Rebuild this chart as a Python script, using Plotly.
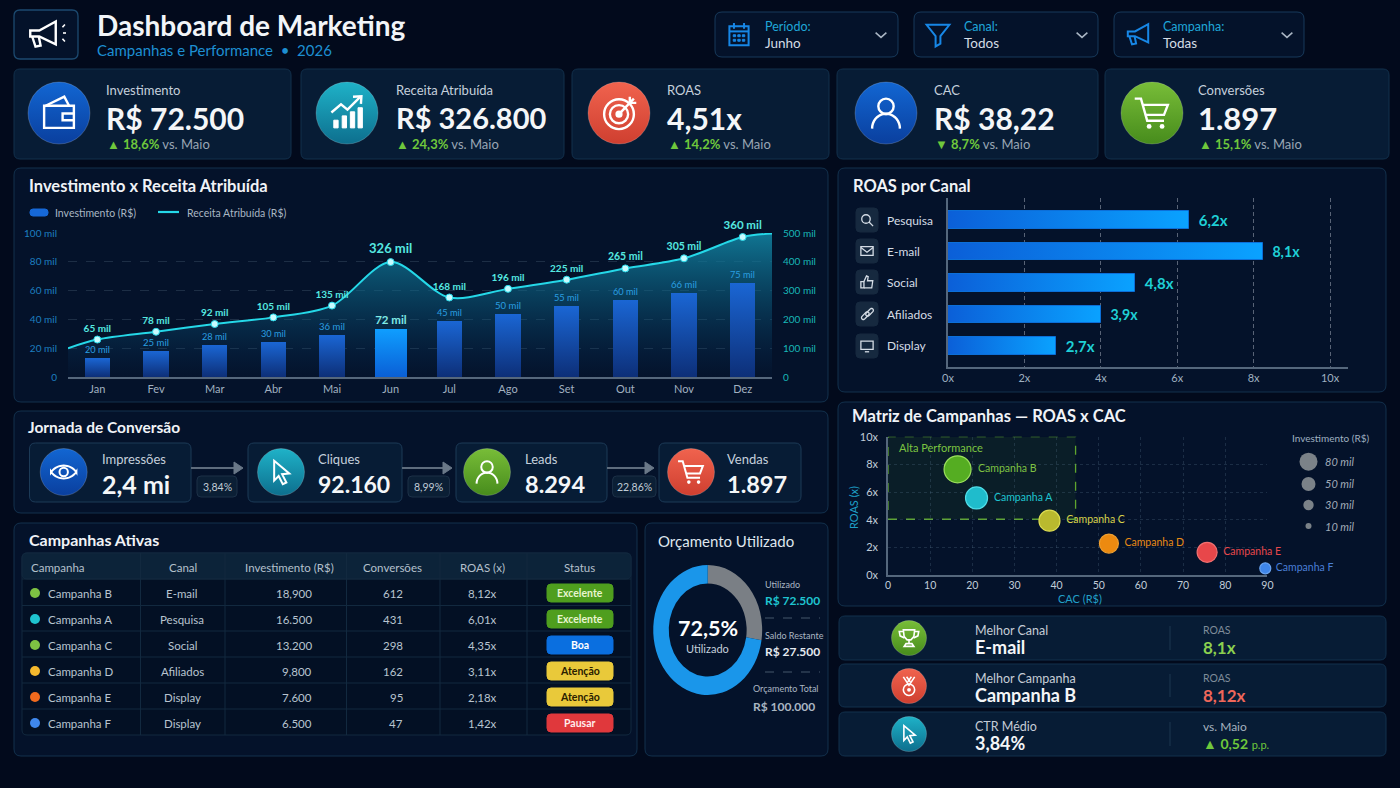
import math
import plotly.graph_objects as go

W, H = 1400, 788
FONT = "Lato"

# ---------- data ----------
meses = ["Jan", "Fev", "Mar", "Abr", "Mai", "Jun", "Jul", "Ago", "Set", "Out", "Nov", "Dez"]
invest_altura = [13.3, 18, 22, 24.4, 29.5, 33.3, 39, 44, 49.3, 53.7, 58, 65.6]
invest_rotulos = ["20 mil", "25 mil", "28 mil", "30 mil", "36 mil", "<b>72 mil</b>", "45 mil", "50 mil", "55 mil", "60 mil", "66 mil", "75 mil"]
receita_altura = [130, 157, 184, 207, 248, 399, 276, 306, 338, 377, 412, 486]
receita_inicio, receita_fim = 100, 498
receita_rotulos = ["65 mil", "78 mil", "92 mil", "105 mil", "135 mil", "326 mil", "168 mil", "196 mil", "225 mil", "265 mil", "305 mil", "360 mil"]
esq_ticks = [0, 20, 40, 60, 80, 100]
esq_labels = ["0", "20 mil", "40 mil", "60 mil", "80 mil", "100 mil"]
dir_ticks = [0, 100, 200, 300, 400, 500]
dir_labels = ["0", "100 mil", "200 mil", "300 mil", "400 mil", "500 mil"]

canais = ["Pesquisa", "E-mail", "Social", "Afiliados", "Display"]
canal_barra = [6.3, 8.25, 4.9, 4.0, 2.83]
canal_rotulos = ["6,2x", "8,1x", "4,8x", "3,9x", "2,7x"]

camp_nomes = ["Campanha B", "Campanha A", "Campanha C", "Campanha D", "Campanha E", "Campanha F"]
camp_cac = [16.5, 21, 38.3, 52.4, 75.7, 89.5]
camp_roas = [7.64, 5.57, 3.93, 2.27, 1.64, 0.48]
camp_bolha = [27, 22, 21, 19, 20, 11]
bolha_legenda = ["80 mil", "50 mil", "30 mil", "10 mil"]

orc_labels = ["Saldo Restante", "Utilizado"]
orc_values = [27.5, 72.5]

tab_header = ["Campanha", "Canal", "Investimento (R$)", "Conversões", "ROAS (x)", "Status"]
tab_camp = ["Campanha B", "Campanha A", "Campanha C", "Campanha D", "Campanha E", "Campanha F"]
tab_canal = ["E-mail", "Pesquisa", "Social", "Afiliados", "Display", "Display"]
tab_inv = ["18,900", "16.500", "13.200", "9,800", "7.600", "6.500"]
tab_conv = ["612", "431", "298", "162", "95", "47"]
tab_roas = ["8,12x", "6,01x", "4,35x", "3,11x", "2,18x", "1,42x"]
tab_status = ["Excelente", "Excelente", "Boa", "Atenção", "Atenção", "Pausar"]

# ---------- palette ----------
BG = "#020a1c"
PANEL = "#04122a"
CARD = "#071c35"
BORDER = "#12304c"
GREEN = "#6fc83c"
TEAL = "#1fd0d6"
DISC_BLUE, DISC_TEAL, DISC_RED, DISC_GREEN = "#0c51b8", "#1393ad", "#e2503f", "#5ea62c"

shapes, notes = [], []


def fx(x):
    return x / W


def fy(y):
    return 1 - y / H


def T(x, y, text, size=12, color="#d5dde6", bold=False, anchor="left", italic=False, angle=0):
    if italic:
        text = f"<i>{text}</i>"
    if anchor == "left":
        x -= 1.5
    notes.append(dict(xref="paper", yref="paper", x=fx(x), y=fy(y), text=text, showarrow=False,
                      xanchor=anchor, yanchor="middle", borderpad=0, textangle=angle,
                      font=dict(size=size, color=color, family=FONT, weight=700 if bold else 400)))


def rrect(x0, y0, x1, y1, r=6, fill=PANEL, line=BORDER, lw=1):
    X0, X1, Y0, Y1 = fx(x0), fx(x1), fy(y0), fy(y1)
    rx, ry = r / W, r / H
    p = (f"M{X0 + rx},{Y0} L{X1 - rx},{Y0} Q{X1},{Y0} {X1},{Y0 - ry} L{X1},{Y1 + ry} Q{X1},{Y1} {X1 - rx},{Y1} "
         f"L{X0 + rx},{Y1} Q{X0},{Y1} {X0},{Y1 + ry} L{X0},{Y0 - ry} Q{X0},{Y0} {X0 + rx},{Y0} Z")
    shapes.append(dict(type="path", xref="paper", yref="paper", path=p, fillcolor=fill,
                       line=dict(color=line, width=lw), layer="below"))


def poly(pts, color="#ffffff", w=2, close=False, fill=None, dash=None):
    p = "M" + " L".join(f"{fx(a)},{fy(b)}" for a, b in pts) + (" Z" if close else "")
    ln = dict(color=color, width=w)
    if dash:
        ln["dash"] = dash
    shapes.append(dict(type="path", xref="paper", yref="paper", path=p, line=ln,
                       fillcolor=fill if fill else "rgba(0,0,0,0)", layer="below"))


def circ(cx, cy, rx, ry=None, fill="rgba(0,0,0,0)", line="rgba(0,0,0,0)", lw=0):
    ry = rx if ry is None else ry
    shapes.append(dict(type="circle", xref="paper", yref="paper", x0=fx(cx - rx), x1=fx(cx + rx),
                       y0=fy(cy + ry), y1=fy(cy - ry), fillcolor=fill, line=dict(color=line, width=lw), layer="below"))


def arc(cx, cy, rx, ry, a0, a1, n=18):
    return [(cx + rx * math.cos(math.radians(a0 + (a1 - a0) * i / n)),
             cy + ry * math.sin(math.radians(a0 + (a1 - a0) * i / n))) for i in range(n + 1)]


def L(cx, cy, s, pts):
    return [(cx + a * s, cy + b * s) for a, b in pts]


def icon(kind, cx, cy, s, c="#ffffff", w=2):
    f = lambda pts: L(cx, cy, s, pts)
    if kind == "wallet":
        poly(f([(-.62, -.3), (.62, -.3), (.62, .62), (-.62, .62)]), c, w, True)
        poly(f([(-.6, -.28), (.22, -.68), (.42, -.3)]), c, w)
        poly(f([(.62, .02), (.15, .02), (.15, .3), (.62, .3)]), c, w)
    elif kind == "chart":
        for bx, top in [(-.55, .3), (-.2, .12), (.14, -.05), (.46, -.22)]:
            poly(f([(bx, .62), (bx, top), (bx + .18, top), (bx + .18, .62)]), c, 1, True, c)
        poly(f([(-.65, -.02), (-.25, -.36), (.02, -.14), (.56, -.68)]), c, w)
        poly(f([(.25, -.68), (.6, -.7), (.58, -.38)]), c, w)
    elif kind == "target":
        circ(cx, cy + .05 * s, .62 * s, line=c, lw=w)
        circ(cx, cy + .05 * s, .38 * s, line=c, lw=w)
        circ(cx, cy + .05 * s, .15 * s, fill=c)
        poly(f([(0, .05), (.62, -.6)]), c, w)
        poly(f([(.45, -.68), (.45, -.42), (.72, -.42)]), c, w)
    elif kind == "person":
        circ(cx, cy - .28 * s, .32 * s, line=c, lw=w)
        poly(L(cx, cy, s, arc(0, .65, .58, .62, 180, 360)), c, w)
    elif kind == "cart":
        poly(f([(-.72, -.6), (-.46, -.6), (-.2, .32), (.5, .32)]), c, w)
        poly(f([(-.38, -.34), (.66, -.34), (.5, .08), (-.26, .08)]), c, w)
        circ(cx - .12 * s, cy + .56 * s, .1 * s, fill=c)
        circ(cx + .42 * s, cy + .56 * s, .1 * s, fill=c)
    elif kind == "eye":
        poly(L(cx, cy, s, arc(0, .42, .95, .85, 207, 333) + arc(0, -.42, .95, .85, 27, 153)), c, w, True)
        circ(cx, cy, .28 * s, line=c, lw=w)
    elif kind == "cursor":
        poly(f([(-.38, -.62), (.46, .08), (.06, .12), (.3, .58), (.1, .68), (-.13, .22), (-.38, .48)]), c, w, True)
    elif kind == "trophy":
        poly(f([(-.42, -.6), (.42, -.6), (.36, -.1), (.14, .14), (-.14, .14), (-.36, -.1)]), c, w, True)
        poly(f([(-.42, -.48), (-.72, -.48), (-.66, -.16), (-.34, 0)]), c, w)
        poly(f([(.42, -.48), (.72, -.48), (.66, -.16), (.34, 0)]), c, w)
        poly(f([(0, .14), (0, .42)]), c, w)
        poly(f([(-.36, .62), (-.22, .42), (.22, .42), (.36, .62)]), c, w, True)
    elif kind == "medal":
        poly(f([(-.42, -.68), (0, -.05), (.42, -.68)]), c, w)
        poly(f([(-.18, -.68), (.1, -.3)]), c, w)
        poly(f([(.18, -.68), (-.1, -.3)]), c, w)
        circ(cx, cy + .28 * s, .42 * s, line=c, lw=w)
        circ(cx, cy + .28 * s, .14 * s, fill=c)
    elif kind == "search":
        circ(cx - .12 * s, cy - .12 * s, .5 * s, line=c, lw=w)
        poly(f([(.24, .24), (.72, .72)]), c, w)
    elif kind == "mail":
        poly(f([(-.72, -.52), (.72, -.52), (.72, .52), (-.72, .52)]), c, w, True)
        poly(f([(-.72, -.4), (0, .14), (.72, -.4)]), c, w)
    elif kind == "thumb":
        poly(f([(-.72, -.05), (-.36, -.05), (-.36, .68), (-.72, .68)]), c, w, True)
        poly(f([(-.36, -.05), (-.06, -.72), (.14, -.62), (.06, -.15), (.68, -.15), (.56, .68), (-.36, .68)]), c, w)
    elif kind == "link":
        poly(L(cx, cy, s, [(a * .7 + b * .7, -a * .7 + b * .7) for a, b in
                           [(-.62, -.22), (.05, -.22)] + arc(.05, 0, .22, .22, -90, 90, 6) + [(-.62, .22)] + arc(-.62, 0, .22, .22, 90, 270, 6)]), c, w)
        poly(L(cx, cy, s, [(a * .7 + b * .7 + .1, -a * .7 + b * .7) for a, b in
                           [(.62, -.22), (-.05, -.22)] + arc(-.05, 0, .22, .22, 270, 90, 6) + [(.62, .22)] + arc(.62, 0, .22, .22, 90, -90, 6)]), c, w)
    elif kind == "monitor":
        poly(f([(-.72, -.58), (.72, -.58), (.72, .4), (-.72, .4)]), c, w, True)
        poly(f([(-.25, .68), (.25, .68)]), c, w)
    elif kind == "calendar":
        poly(f([(-.8, -.72), (.8, -.72), (.8, .85), (-.8, .85)]), c, w, True)
        poly(f([(-.8, -.3), (.8, -.3)]), c, w)
        poly(f([(-.42, -1), (-.42, -.52)]), c, w)
        poly(f([(.42, -1), (.42, -.52)]), c, w)
        for dy in (.06, .44):
            for dx in (-.38, 0, .38):
                poly(f([(dx - .1, dy - .08), (dx + .1, dy - .08), (dx + .1, dy + .08), (dx - .1, dy + .08)]), c, 1, True, c)
    elif kind == "funnel":
        poly(f([(-.95, -.85), (.95, -.85), (.2, .1), (.2, .72), (-.2, .95), (-.2, .1)]), c, w, True)
    elif kind == "mega":
        poly(f([(-.85, -.3), (-.25, -.3), (.85, -.9), (.85, .62), (-.25, .1), (-.85, .1)]), c, w, True)
        poly(f([(-.72, .1), (-.5, .78), (-.16, .7), (-.28, .12)]), c, w)
    elif kind == "chev":
        poly(f([(-.9, -.4), (0, .4), (.9, -.4)]), c, w)


# ---------- header ----------
rrect(14, 10, 78, 59, 6, "#04122a", "#1c4a70", 1.3)
icon("mega", 43, 35, 15, "#ffffff", 2.4)
for a in (-35, 0, 35):
    ang = math.radians(a)
    poly([(60 + 3 * math.cos(ang), 33 + 5 * math.sin(ang) * 2), (60 + 6 * math.cos(ang), 33 + 7.5 * math.sin(ang) * 2)], "#ffffff", 1.6)
T(97, 25, "Dashboard de Marketing", 28, "#f2f5f8", True)
T(97, 50, "Campanhas e Performance  •  2026", 15, "#1d8fd2")

for x0, x1, ic, lab, val, xt, xc in [(715, 898, "calendar", "Período:", "Junho", 765, 881),
                                     (914, 1098, "funnel", "Canal:", "Todos", 964, 1082),
                                     (1114, 1304, "mega", "Campanha:", "Todas", 1163, 1287)]:
    rrect(x0, 12, x1, 57, 7, "#04122a", "#17395a")
    icon(ic, x0 + 24, 35, 12, "#1787e6", 2)
    T(xt, 27, lab, 12.5, "#1fa6d8")
    T(xt, 43, val, 13.5, "#d5dde6")
    icon("chev", xc, 35, 6, "#aab6c4", 1.5)

# ---------- KPI cards ----------
kpis = [(14, 291, 59, DISC_BLUE, "wallet", "Investimento", "R$ 72.500", "▲", "18,6%", 106, 30),
        (301, 564, 347, DISC_TEAL, "chart", "Receita Atribuída", "R$ 326.800", "▲", "24,3%", 396, 29),
        (572, 829, 619, DISC_RED, "target", "ROAS", "4,51x", "▲", "14,2%", 667, 30),
        (837, 1098, 886, "#0d55bd", "person", "CAC", "R$ 38,22", "▼", "8,7%", 934, 30),
        (1105, 1389, 1152, DISC_GREEN, "cart", "Conversões", "1.897", "▲", "15,1%", 1198, 31)]
for x0, x1, cx, col, ic, lab, val, arrow, d, tx, vs in kpis:
    rrect(x0, 69, x1, 159, 6, CARD, BORDER)
    circ(cx, 113, 31, fill=col, line="rgba(255,255,255,0.18)", lw=1)
    icon(ic, cx, 113, 24, "#ffffff", 2.4)
    T(tx, 90, lab, 13, "#c5d0dc")
    T(tx, 118, val, vs, "#f4f6f8", True)
    T(tx + 1, 144, f'<span style="color:{GREEN}"><b>{arrow} {d}</b></span> vs. Maio', 13, "#99a6b4")

# ---------- panels ----------
rrect(14, 168, 828, 402, 7)
rrect(838, 168, 1386, 392, 7)
rrect(838, 402, 1386, 606, 7)
rrect(14, 411, 828, 513, 7)
rrect(14, 523, 637, 756, 7)
rrect(645, 523, 828, 756, 7)

T(29, 186, "Investimento x Receita Atribuída", 16.5, "#f0f3f7", True)
T(853, 186, "ROAS por Canal", 16.5, "#f0f3f7", True)
T(852, 416, "Matriz de Campanhas — ROAS x CAC", 16.5, "#f0f3f7", True)
T(28, 427, "Jornada de Conversão", 15.5, "#f0f3f7", True)
T(29, 539, "Campanhas Ativas", 16, "#f0f3f7", True)
T(658, 541, "Orçamento Utilizado", 15, "#dfe6ee")

# legend of the combo chart
rrect(30, 209, 48, 216, 3, "#1668d8", "#1668d8")
T(55, 213, "Investimento (R$)", 10.5, "#a9b6c3")
poly([(158, 212), (179, 212)], "#25d8e8", 2.2)
T(187, 213, "Receita Atribuída (R$)", 10.5, "#a9b6c3")

# ---------- ROAS channel tiles ----------
tile_icons = ["search", "mail", "thumb", "link", "monitor"]
tile_y = [220, 251, 282, 314, 346]
for ic, yy in zip(tile_icons, tile_y):
    rrect(856, yy - 12, 878, yy + 12, 4, "#16293f", "#16293f")
    icon(ic, 867, yy, 8.5, "#d5dde6", 1.3)

# ---------- funnel ----------
jornada = [(29.5, 191, 63.7, DISC_BLUE, "eye", "Impressões", "2,4 mi", 102, 25, 15),
           (248, 402, 281, DISC_TEAL, "cursor", "Cliques", "92.160", 318, 23, 18),
           (456, 607, 487, DISC_GREEN, "person", "Leads", "8.294", 525, 23.5, 18),
           (659, 801, 691, DISC_RED, "cart", "Vendas", "1.897", 727, 23.5, 18)]
for x0, x1, cx, col, ic, lab, val, tx, vs, isz in jornada:
    rrect(x0, 443, x1, 502, 6, CARD, "#1c3a57")
    circ(cx, 472, 23.5, fill=col, line="rgba(255,255,255,0.18)", lw=1)
    icon(ic, cx, 472, isz, "#ffffff", 2)
    T(tx, 459, lab, 13, "#c5d0dc")
    T(tx, 484, val, vs, "#f4f6f8", True)
for x0, x1, px0, px1, txt in [(191, 243, 197, 237, "3,84%"), (402, 452, 408, 449.5, "8,99%"), (607, 654, 612.6, 656, "22,86%")]:
    poly([(x0, 468), (x1 - 8, 468)], "#5e6c7d", 2)
    poly([(x1 - 9, 462), (x1, 468), (x1 - 9, 474)], "#6a7888", 1, True, "#6a7888")
    rrect(px0, 476, px1, 497, 4, "#0b1f35", "#1c3047")
    T((px0 + px1) / 2, 487, txt, 10.5, "#c0ccd6", anchor="center")

# ---------- table ----------
rrect(22, 553, 631, 735, 5, "#031024", "#12293f")
rrect(22, 553, 631, 579, 5, "#0c2339", "#12293f")
for yy in [579, 605.5, 631, 657, 683, 709]:
    poly([(22, yy), (631, yy)], "#12293f", 1)
for xx in [140.5, 225, 346.5, 440, 527]:
    poly([(xx, 553), (xx, 735)], "#12293f", 1)
hx = [31, 183, 289, 392, 483, 579]
for i, (h, xx) in enumerate(zip(tab_header, hx)):
    T(xx, 567, h, 11.5, "#b4c0cc", anchor="left" if i == 0 else "center")
dot_cols = ["#7ec243", "#1fc4d0", "#7ec243", "#f5b92e", "#f06a1e", "#3f88ee"]
pill = {"Excelente": ("#4f9e1e", "#e8f5d0"), "Boa": ("#0a6fe0", "#ffffff"),
        "Atenção": ("#e9c93a", "#2a2000"), "Pausar": ("#e0383c", "#ffecec")}
for i in range(6):
    yy = 593 + i * 26
    circ(35, yy, 5, fill=dot_cols[i])
    T(48, yy, tab_camp[i], 11.5, "#b8c4d0")
    T(182, yy, tab_canal[i], 11.5, "#b8c4d0", anchor="center")
    T(313, yy, tab_inv[i], 11.5, "#b8c4d0", anchor="right")
    T(404, yy, tab_conv[i], 11.5, "#b8c4d0", anchor="right")
    T(483, yy, tab_roas[i], 11.5, "#b8c4d0", anchor="center")
    bgc, fgc = pill[tab_status[i]]
    rrect(547, yy - 9, 613, yy + 9, 4, bgc, bgc)
    T(580, yy, tab_status[i], 10.5, fgc, True, "center")

# ---------- donut side texts ----------
T(708, 628, "72,5%", 21.5, "#ffffff", True, "center")
T(708, 648, "Utilizado", 11, "#c5d0dc", anchor="center")
T(765, 584, "Utilizado", 9, "#aab6c2")
T(765, 600, "R$ 72.500", 12, "#1fc4d0", True)
poly([(765, 618), (820, 618)], "#44566a", 1, dash="dash")
T(765, 635, "Saldo Restante", 9, "#aab6c2")
T(765, 651, "R$ 27.500", 12, "#e4e9f0", True)
poly([(765, 672), (820, 672)], "#44566a", 1, dash="dash")
T(820, 688, "Orçamento Total", 9, "#aab6c2", anchor="right")
T(816, 706, "R$ 100.000", 12, "#aab6c2", True, "right")

# ---------- bottom-right cards ----------
info = [(616, 660, 638, DISC_GREEN, "trophy", "Melhor Canal", "E-mail", "ROAS", "8,1x", "#8bd04f"),
        (664, 707, 686, DISC_RED, "medal", "Melhor Campanha", "Campanha B", "ROAS", "8,12x", "#f0675a"),
        (712, 756, 734, DISC_TEAL, "cursor", "CTR Médio", "3,84%", "vs. Maio", None, None)]
for y0, y1, cy, col, ic, lab, val, side, sval, scol in info:
    rrect(839, y0, 1386, y1, 6, CARD, BORDER)
    circ(909, cy, 17.5, fill=col, line="rgba(255,255,255,0.18)", lw=1)
    icon(ic, 909, cy, 13.5, "#ffffff", 1.6)
    T(975, cy - 8, lab, 12.5, "#c5ccd6")
    T(975, cy + 9, val, 18, "#f4f6f8", True)
    poly([(1170, y0 + 10), (1170, y1 - 10)], "#1d3650", 1)
    if sval:
        T(1203, cy - 8, side, 10.5, "#7f8c9a")
        T(1203, cy + 9, sval, 17, scol, True)
    else:
        T(1203, cy - 8, side, 12, "#a6b2bf")
        T(1203, cy + 9, f'▲ <b>0,52</b> <span style="font-size:11px">p.p.</span>', 14, GREEN)

# ---------- size legend ----------
T(1331, 438, "Investimento (R$)", 10, "#9fb0c0", anchor="center")
for (yy, r), lab in zip([(461.7, 9), (484, 7), (505, 5.2), (526, 3)], bolha_legenda):
    circ(1308.5, yy, r, fill="#7b8288")
    T(1325, yy, lab, 11, "#a0aab8", italic=True)

T(899, 447, "Alta Performance", 11, "#7cc441")
T(1080, 598, "CAC (R$)", 11, "#22a0c8", anchor="center")
T(853, 508, "ROAS (x)", 11, "#1fa0c8", anchor="center", angle=-90)

shapes.append(dict(type="rect", xref="x3", yref="y4", x0=0, x1=44.5, y0=4.03, y1=10,
                   fillcolor="rgba(70,140,30,0.10)", line=dict(color="#5ea52e", width=1.3, dash="dash"), layer="below"))

for i, nm in enumerate(canais):
    notes.append(dict(xref="paper", yref="y3", x=fx(885.5), y=i, text=nm, showarrow=False, xanchor="left",
                      yanchor="middle", font=dict(size=12, color="#d5dde6", family=FONT)))

# ---------- traces ----------
fig = go.Figure()
n = len(meses)
linha_x = [-0.5] + list(range(n)) + [11.5]
linha_y = [receita_inicio] + receita_altura + [receita_fim]

fig.add_trace(go.Scatter(x=linha_x, y=linha_y, mode="lines", line=dict(color="#25d8e8", width=2, shape="spline", smoothing=0.9),
                         fill="tozeroy", fillgradient=dict(type="vertical", colorscale=[[0, "rgba(10,60,110,0.03)"], [0.5, "rgba(12,100,135,0.45)"], [1, "rgba(18,135,165,0.85)"]]),
                         xaxis="x", yaxis="y", showlegend=False, name="Receita Atribuída (R$)"))
fig.add_trace(go.Scatter(x=list(range(n)), y=receita_altura, mode="markers+text", text=receita_rotulos, textposition="top center",
                         marker=dict(size=7, color="#c8fbff", line=dict(color="#25d8e8", width=1)),
                         textfont=dict(family=FONT, weight=700, color="#55e8e0", size=[10, 10, 10, 10, 10, 13, 10, 10, 10, 10.5, 10.5, 11.5]),
                         cliponaxis=False, xaxis="x", yaxis="y", showlegend=False))
cols_bar = ["rgb(22, 98, 200)"] * n
cols_bar[5] = "rgb(15, 155, 255)"
larg = [0.43] * n
larg[5] = 0.54
txt_bar = ["#2a9fe0"] * n
txt_bar[5] = "#7fe9e6"
size_bar = [10.5] * n
size_bar[5] = 11.5
fig.add_trace(go.Bar(x=list(range(n)), y=invest_altura, width=larg, marker=dict(color=cols_bar, line=dict(width=0)),
                     text=invest_rotulos, textposition="outside", textfont=dict(family=FONT, size=size_bar, color=txt_bar),
                     cliponaxis=False, xaxis="x", yaxis="y2", showlegend=False, name="Investimento (R$)"))

fig.add_trace(go.Bar(y=list(range(5)), x=canal_barra, orientation="h", width=0.55,
                     marker=dict(color="rgb(8, 130, 240)", line=dict(color="#0c6fd8", width=1)),
                     text=["\u00a0\u00a0" + t for t in canal_rotulos], textposition="outside",
                     textfont=dict(family=FONT, size=20, color=TEAL, weight=700), cliponaxis=False,
                     xaxis="x2", yaxis="y3", showlegend=False))

cols_camp = ["#55ad22", "#1fbccc", "#b9b92e", "#ec8a10", "#e8474a", "#3f86ea"]
line_camp = ["#9be05e", "#4fdde8", "#dcdc50", "#f0a030", "#f07070", "#6aa4f0"]
txt_camp = ["#7ec243", "#1fc4d0", "#d9d34a", "#e88a15", "#e8484a", "#4a7fd6"]
fig.add_trace(go.Scatter(x=camp_cac, y=camp_roas, mode="markers+text", text=["\u00a0" + t for t in camp_nomes],
                         textposition="middle right", textfont=dict(family=FONT, size=10.5, color=txt_camp),
                         marker=dict(size=camp_bolha, color=cols_camp, opacity=1, line=dict(color=line_camp, width=1.2)),
                         cliponaxis=False, xaxis="x3", yaxis="y4", showlegend=False))

fig.add_trace(go.Pie(labels=orc_labels, values=orc_values, hole=0.715, sort=False, direction="clockwise", rotation=0,
                     textinfo="none", marker=dict(colors=["#7a7f85", "#1a96ea"], line=dict(width=0)),
                     domain=dict(x=[fx(707.7 - 65), fx(707.7 + 65)], y=[fy(630 + 65), fy(630 - 65)]), showlegend=False))

GRID = "rgba(130,160,180,0.2)"
AX = "#55677c"
fig.update_layout(
    width=W, height=H, margin=dict(l=0, r=0, t=0, b=0, pad=0, autoexpand=False), autosize=False,
    paper_bgcolor=BG, plot_bgcolor="rgba(0,0,0,0)", font=dict(family=FONT, color="#d5dde6"),
    barmode="overlay", bargap=0, shapes=shapes, annotations=notes, hovermode=False,
    xaxis=dict(domain=[fx(68), fx(772)], range=[-0.5, 11.5], tickmode="array", tickvals=list(range(n)), ticktext=meses,
               showgrid=False, zeroline=False, showline=True, linecolor=AX, linewidth=2, anchor="y",
               ticks="outside", ticklen=1, tickcolor="rgba(0,0,0,0)", tickfont=dict(size=11, color="#a0b0c0", family=FONT)),
    yaxis=dict(domain=[fy(377), fy(233)], range=[0, 500], side="right", tickmode="array", tickvals=dir_ticks, ticktext=dir_labels,
               showgrid=True, gridcolor=GRID, griddash="dash", zeroline=False, showline=False, anchor="x",
               ticks="outside", ticklen=8, tickcolor="rgba(0,0,0,0)", tickfont=dict(size=10, color="#18b8b8", family=FONT)),
    yaxis2=dict(domain=[fy(377), fy(233)], range=[0, 100], side="left", overlaying="y", tickmode="array", tickvals=esq_ticks,
                ticktext=esq_labels, showgrid=False, zeroline=False, showline=False, anchor="x",
                ticks="outside", ticklen=8, tickcolor="rgba(0,0,0,0)", tickfont=dict(size=10, color="#1d7fc0", family=FONT)),
    xaxis2=dict(domain=[fx(948), fx(1348)], range=[0, 10.47], tickmode="array", tickvals=[0, 2, 4, 6, 8, 10],
                ticktext=["0x", "2x", "4x", "6x", "8x", "10x"], showgrid=True, gridcolor="rgba(190,200,210,0.45)", griddash="4px,3px",
                zeroline=False, showline=True, linecolor=AX, linewidth=2, anchor="y3",
                ticks="", tickfont=dict(size=11, color="#9fb0c0", family=FONT)),
    yaxis3=dict(domain=[fy(367), fy(198)], range=[4.67, -0.70], showticklabels=False, showgrid=False, zeroline=False,
                showline=True, linecolor=AX, linewidth=1.5, anchor="x2"),
    xaxis3=dict(domain=[fx(888), fx(1267.4)], range=[0, 90], tickmode="array", tickvals=list(range(0, 100, 10)),
                showgrid=True, gridcolor="rgba(110,140,170,0.22)", griddash="dot", zeroline=False, showline=True,
                linecolor=AX, linewidth=1.5, anchor="y4", ticks="",
                tickfont=dict(size=10.5, color="#c0ccd8", family=FONT)),
    yaxis4=dict(domain=[fy(575), fy(436.7)], range=[0, 10], tickmode="array", tickvals=[0, 2, 4, 6, 8, 10],
                ticktext=["0x", "2x", "4x", "6x", "8x", "10x"], showgrid=True, gridcolor="rgba(110,140,170,0.22)", griddash="dot",
                zeroline=False, showline=True, linecolor=AX, linewidth=1.5, anchor="x3", ticks="outside", ticklen=6,
                tickcolor="rgba(0,0,0,0)", tickfont=dict(size=11, color="#c0ccd8", family=FONT)),
)

post = """
document.body.style.margin='0';document.body.style.background='%s';document.body.style.overflow='hidden';
var svg=document.querySelector('.main-svg');
var NS='http://www.w3.org/2000/svg';
var defs=document.createElementNS(NS,'defs');svg.insertBefore(defs,svg.firstChild);
function grad(id,x2,y2,stops){var g=document.createElementNS(NS,'linearGradient');g.setAttribute('id',id);
 g.setAttribute('x1',0);g.setAttribute('y1',0);g.setAttribute('x2',x2);g.setAttribute('y2',y2);
 stops.forEach(function(s){var e=document.createElementNS(NS,'stop');e.setAttribute('offset',s[0]);e.setAttribute('stop-color',s[1]);g.appendChild(e);});
 defs.appendChild(g);}
grad('gBar',0,1,[[0,'#1a66d4'],[1,'#0d2f78']]);
grad('gJun',0,1,[[0,'#0f9eff'],[1,'#0a5fd6']]);
grad('gH',1,0,[[0,'#0b5fd8'],[1,'#0aa2ff']]);
grad('dBlue',0,1,[[0,'#1266d2'],[1,'#0a3f9e']]);
grad('dTeal',0,1,[[0,'#1fb2c8'],[1,'#0d6f8e']]);
grad('dRed',0,1,[[0,'#f0634e'],[1,'#cf3f30']]);
grad('dGreen',0,1,[[0,'#78bd38'],[1,'#478c1c']]);
var map={'rgb(22, 98, 200)':'gBar','rgb(15, 155, 255)':'gJun','rgb(8, 130, 240)':'gH',
 'rgb(12, 81, 184)':'dBlue','rgb(13, 85, 189)':'dBlue','rgb(19, 147, 173)':'dTeal','rgb(226, 80, 63)':'dRed','rgb(94, 166, 44)':'dGreen'};
document.querySelectorAll('.shapelayer path, .barlayer path').forEach(function(p){var f=p.style.fill;if(map[f]){p.style.fill='url(#'+map[f]+')';}});
var pie=document.querySelector('.pielayer .trace');
if(pie){pie.setAttribute('transform','translate(707.7,630) scale(0.838,1) translate(-707.7,-630)');}
""" % BG

fig.write_html("out.html", config=dict(displayModeBar=False, responsive=False), post_script=post)
